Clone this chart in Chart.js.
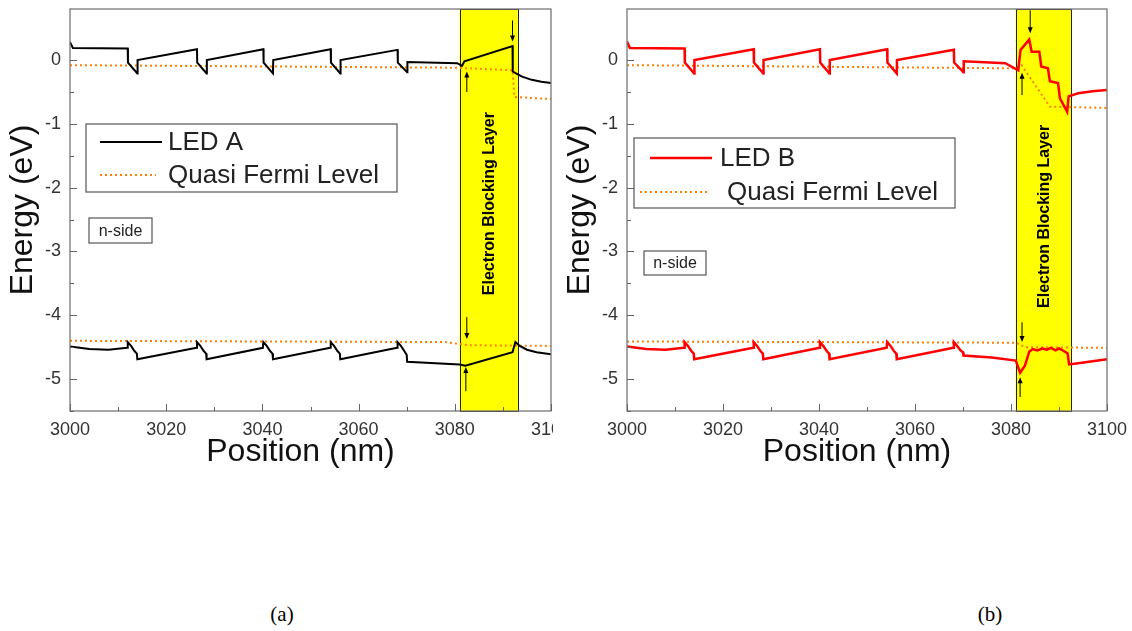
<!DOCTYPE html>
<html><head><meta charset="utf-8">
<script src="https://cdn.jsdelivr.net/npm/chart.js@4.4.1/dist/chart.umd.min.js"></script>
<style>
body{margin:0;background:#fff;width:1132px;height:631px;position:relative;overflow:hidden}
#wa{position:absolute;left:0;top:0;width:553px;height:480px;overflow:hidden}
#wb{position:absolute;left:555px;top:0;width:577px;height:480px}
.cap{position:absolute;top:602px;font-family:"Liberation Serif","Times New Roman",serif;font-size:21px;color:#000;transform:translateX(-50%)}
</style></head>
<body>
<div id="wa"><canvas id="ca" width="600" height="480"></canvas></div>
<div id="wb"><canvas id="cb" width="577" height="480"></canvas></div>
<div class="cap" style="left:282px">(a)</div>
<div class="cap" style="left:990px">(b)</div>
<script>
// ---------- data ----------
const xTicksMajor = [3000, 3020, 3040, 3060, 3080, 3100];
const yTicksMajor = [0, -1, -2, -3, -4, -5];
const eblA = [3081.0, 3093.1];
const eblB = [3081.0, 3092.5];

// LED A conduction band
const xA_cb = [3000,3000.6,3012.0,3012.05,3014.0,3014.05,3026.4,3026.45,3028.4,3028.45,3040.2,3040.25,3042.2,3042.25,3054.2,3054.25,3056.2,3056.25,3068.1,3068.15,3070.1,3070.15,3080.5,3081.5,3082.0,3092.0,3092.05,3093,3094,3096,3098,3100];
const eA_cb = [0.28,0.19,0.18,-0.04,-0.21,0.00,0.17,-0.04,-0.21,0.00,0.17,-0.04,-0.21,0.00,0.17,-0.04,-0.21,0.00,0.16,-0.04,-0.19,-0.03,-0.05,-0.09,-0.02,0.22,-0.18,-0.22,-0.26,-0.31,-0.34,-0.36];
// LED A valence band
const xA_vb = [3000,3004,3008,3011.9,3012.0,3012.7,3013.4,3013.9,3014.0,3026.3,3026.4,3027.1,3027.8,3028.3,3028.4,3040.1,3040.2,3040.9,3041.6,3042.1,3042.2,3054.1,3054.2,3054.9,3055.6,3056.1,3056.2,3068.0,3068.1,3068.8,3069.5,3070.0,3070.1,3081.0,3082.2,3092.0,3092.6,3093.5,3095,3097,3100];
const eA_vb = [-4.49,-4.53,-4.54,-4.51,-4.42,-4.48,-4.56,-4.60,-4.69,-4.51,-4.42,-4.48,-4.56,-4.60,-4.69,-4.51,-4.42,-4.48,-4.56,-4.60,-4.69,-4.51,-4.42,-4.48,-4.56,-4.60,-4.69,-4.51,-4.42,-4.48,-4.56,-4.62,-4.73,-4.77,-4.79,-4.58,-4.42,-4.48,-4.54,-4.58,-4.61];
// LED A quasi Fermi levels
const xA_fe = [3000,3080,3092.0,3092.4,3100];
const eA_fe = [-0.08,-0.12,-0.16,-0.58,-0.61];
const xA_fh = [3000,3078,3083,3100];
const eA_fh = [-4.40,-4.42,-4.47,-4.48];

// LED B conduction band
const xB_cb = [3000,3000.6,3012.0,3012.05,3014.0,3014.05,3026.4,3026.45,3028.4,3028.45,3040.2,3040.25,3042.2,3042.25,3054.2,3054.25,3056.2,3056.25,3068.1,3068.15,3070.1,3070.15,3078.8,3081.5,3082.0,3083.8,3084.3,3085.9,3086.3,3087.7,3088.1,3089.8,3090.2,3091.7,3092.0,3094,3097,3100];
const eB_cb = [0.29,0.19,0.18,-0.04,-0.21,0.00,0.17,-0.04,-0.21,0.00,0.17,-0.04,-0.21,0.00,0.17,-0.04,-0.21,0.00,0.16,-0.04,-0.19,-0.02,-0.05,-0.16,0.16,0.32,0.13,0.13,-0.10,-0.13,-0.33,-0.36,-0.60,-0.81,-0.57,-0.52,-0.49,-0.47];
// LED B valence band
const xB_vb = [3000,3004,3008,3011.9,3012.0,3012.7,3013.4,3013.9,3014.0,3026.3,3026.4,3027.1,3027.8,3028.3,3028.4,3040.1,3040.2,3040.9,3041.6,3042.1,3042.2,3054.1,3054.2,3054.9,3055.6,3056.1,3056.2,3068.0,3068.1,3068.8,3069.5,3070.0,3070.1,3076,3081.0,3081.9,3082.9,3083.8,3084.5,3085.5,3086.5,3087.5,3088.3,3089.3,3090.0,3091.0,3091.8,3092.1,3094,3097,3100];
const eB_vb = [-4.49,-4.53,-4.54,-4.51,-4.42,-4.48,-4.56,-4.60,-4.69,-4.51,-4.42,-4.48,-4.56,-4.60,-4.69,-4.51,-4.42,-4.48,-4.56,-4.60,-4.69,-4.51,-4.42,-4.48,-4.56,-4.60,-4.69,-4.51,-4.42,-4.48,-4.55,-4.58,-4.63,-4.66,-4.71,-4.90,-4.79,-4.57,-4.53,-4.55,-4.52,-4.54,-4.51,-4.55,-4.52,-4.56,-4.60,-4.77,-4.75,-4.72,-4.69];
// LED B quasi Fermi levels
const xB_fe = [3000,3081,3082.2,3088.1,3100];
const eB_fe = [-0.08,-0.13,-0.08,-0.73,-0.75];
const xB_fh = [3000,3081,3083,3100];
const eB_fh = [-4.41,-4.43,-4.50,-4.51];

// arrow annotations (x, from y, to y)
const arrowsA = [[3092.0,0.62,0.29],[3082.5,-0.50,-0.18],[3082.5,-4.03,-4.37],[3082.3,-5.19,-4.81]];
const arrowsB = [[3084.0,0.78,0.42],[3082.3,-0.55,-0.20],[3082.3,-4.11,-4.42],[3081.9,-5.28,-4.97]];

// ---------- rendering ----------
const FONT = '"Liberation Sans", Arial, sans-serif';
const ORANGE = '#ff8000';
const zip = (xs, ys) => xs.map((x, i) => ({x, y: ys[i]}));

const decor = {
  id: 'decor',
  beforeDatasetsDraw(chart) {
    const o = chart.options.plugins.decor;
    const {ctx, chartArea: a, scales: {x}} = chart;
    const x0 = x.getPixelForValue(o.ebl[0]), x1 = x.getPixelForValue(o.ebl[1]);
    ctx.save();
    ctx.fillStyle = '#ffff00';
    ctx.fillRect(x0, a.top, x1 - x0, a.bottom - a.top);
    ctx.strokeStyle = '#222'; ctx.lineWidth = 1;
    ctx.strokeRect(Math.round(x0) + 0.5, a.top + 0.5, Math.round(x1 - x0), a.bottom - a.top);
    ctx.restore();
  },
  afterDatasetsDraw(chart) {
    const o = chart.options.plugins.decor;
    const {ctx, chartArea: a, scales: {x, y}} = chart;
    ctx.save();
    // frame
    ctx.strokeStyle = '#777'; ctx.lineWidth = 1.3;
    ctx.strokeRect(a.left, a.top, a.right - a.left, a.bottom - a.top);
    // inner ticks
    ctx.strokeStyle = '#666'; ctx.lineWidth = 1;
    x.ticks.forEach(t => {
      const px = Math.round(x.getPixelForValue(t.value)) + 0.5;
      const len = (t.value % 20 === 0) ? 7 : 4;
      ctx.beginPath(); ctx.moveTo(px, a.bottom); ctx.lineTo(px, a.bottom - len); ctx.stroke();
    });
    y.ticks.forEach(t => {
      const r = t.value * 2;
      if (Math.abs(r - Math.round(r)) > 1e-6) return;
      const py = Math.round(y.getPixelForValue(t.value)) + 0.5;
      const len = Math.abs(t.value - Math.round(t.value)) < 1e-6 ? 7 : 4;
      ctx.beginPath(); ctx.moveTo(a.left, py); ctx.lineTo(a.left + len, py); ctx.stroke();
    });
    // x-axis title (slightly left of centre, as in the original)
    ctx.fillStyle = '#111'; ctx.font = '32px ' + FONT;
    ctx.textAlign = 'center'; ctx.textBaseline = 'middle';
    ctx.fillText('Position (nm)', (a.left + a.right) / 2 - 10, a.bottom + 41);
    // EBL label
    const xc = (x.getPixelForValue(o.ebl[0]) + x.getPixelForValue(o.ebl[1])) / 2;
    ctx.translate(xc, y.getPixelForValue(o.eblTextY));
    ctx.rotate(-Math.PI / 2);
    ctx.fillStyle = '#000'; ctx.font = 'bold 16px ' + FONT;
    ctx.textAlign = 'center'; ctx.textBaseline = 'middle';
    ctx.fillText('Electron Blocking Layer', 0, 1);
    ctx.setTransform(1, 0, 0, 1, 0, 0);
    // arrows
    ctx.strokeStyle = '#000'; ctx.fillStyle = '#000'; ctx.lineWidth = 1;
    o.arrows.forEach(([ax, ya, yb]) => {
      const px = x.getPixelForValue(ax), p0 = y.getPixelForValue(ya), p1 = y.getPixelForValue(yb);
      const dir = Math.sign(p1 - p0);
      ctx.beginPath(); ctx.moveTo(px, p0); ctx.lineTo(px, p1 - dir * 4); ctx.stroke();
      ctx.beginPath(); ctx.moveTo(px, p1); ctx.lineTo(px - 2.5, p1 - dir * 6); ctx.lineTo(px + 2.5, p1 - dir * 6); ctx.closePath(); ctx.fill();
    });
    // legend
    const L = o.legend;
    const lx = a.left + L.dx, ly = a.top + L.dy;
    ctx.fillStyle = '#fff'; ctx.fillRect(lx, ly, L.w, L.h);
    ctx.strokeStyle = '#555'; ctx.lineWidth = 1.2; ctx.strokeRect(lx, ly, L.w, L.h);
    ctx.font = '26px ' + FONT; ctx.textAlign = 'left'; ctx.textBaseline = 'middle'; ctx.fillStyle = '#222';
    const items = [chart.data.datasets[0], chart.data.datasets[2]];
    items.forEach((ds, i) => {
      const rowY = ly + L.rows[i];
      const s = L.samples[i];
      ctx.save();
      ctx.strokeStyle = ds.borderColor; ctx.lineWidth = ds.borderWidth;
      ctx.setLineDash(ds.borderDash || []);
      ctx.beginPath(); ctx.moveTo(lx + s[0], rowY); ctx.lineTo(lx + s[1], rowY); ctx.stroke();
      ctx.restore();
      ctx.fillText(ds.label, lx + L.textX[i], rowY + 1);
    });
    // n-side box
    const N = o.nside;
    const nx = a.left + N[0], ny = a.top + N[1];
    ctx.strokeStyle = '#555'; ctx.lineWidth = 1.2; ctx.strokeRect(nx, ny, N[2], N[3]);
    ctx.fillStyle = '#222'; ctx.font = '16px ' + FONT; ctx.textAlign = 'center';
    ctx.fillText('n-side', nx + N[2] / 2, ny + N[3] / 2 + 1);
    ctx.restore();
  }
};

function makeChart(id, c) {
  return new Chart(document.getElementById(id), {
    type: 'line',
    data: {datasets: [
      {label: c.name, data: zip(c.xcb, c.ecb), borderColor: c.color, borderWidth: c.lw, pointRadius: 0, tension: 0, fill: false},
      {label: c.name + ' (VB)', data: zip(c.xvb, c.evb), borderColor: c.color, borderWidth: c.lw, pointRadius: 0, tension: 0, fill: false},
      {label: 'Quasi Fermi Level', data: zip(c.xfe, c.efe), borderColor: ORANGE, borderWidth: 2, borderDash: [2, 3], pointRadius: 0, tension: 0, fill: false},
      {label: 'Quasi Fermi Level (h)', data: zip(c.xfh, c.efh), borderColor: ORANGE, borderWidth: 2, borderDash: [2, 3], pointRadius: 0, tension: 0, fill: false}
    ]},
    options: {
      responsive: false, animation: false, devicePixelRatio: 1,
      layout: {padding: {left: 0, right: c.padR, top: 9, bottom: 9}},
      plugins: {legend: {display: false}, tooltip: {enabled: false},
        decor: {ebl: c.ebl, eblTextY: c.eblTextY, arrows: c.arrows, legend: c.legend, nside: c.nside}},
      scales: {
        x: {type: 'linear', min: 3000, max: 3100,
          afterFit: s => { s.height = 60; s.paddingLeft = 0; s.paddingRight = 0; },
          grid: {display: false, drawTicks: false}, border: {display: false},
          ticks: {stepSize: 10, autoSkip: false, maxRotation: 0, padding: 8, color: '#333', font: {size: 18, family: FONT},
            callback: v => xTicksMajor.includes(v) ? String(v) : ''},
          title: {display: false}},
        y: {type: 'linear', min: -5.5, max: 0.8,
          afterFit: s => { s.width = c.yw; s.paddingTop = 0; s.paddingBottom = 0; },
          grid: {display: false, drawTicks: false}, border: {display: false},
          ticks: {stepSize: 0.5, autoSkip: false, padding: 9, color: '#333', font: {size: 18, family: FONT},
            callback: v => { const r = Math.round(v); return (Math.abs(v - r) < 1e-6 && yTicksMajor.includes(r)) ? String(r) : ''; }},
          title: {display: true, text: 'Energy (eV)', color: '#111', font: {size: 32, family: FONT}, padding: {top: c.ytPad, bottom: 0}}}
      }
    },
    plugins: [decor]
  });
}

makeChart('ca', {name: 'LED A', color: '#000000', lw: 2,
  xcb: xA_cb, ecb: eA_cb, xvb: xA_vb, evb: eA_vb, xfe: xA_fe, efe: eA_fe, xfh: xA_fh, efh: eA_fh,
  ebl: eblA, eblTextY: -2.25, arrows: arrowsA, padR: 49, yw: 70, ytPad: 4,
  legend: {dx: 16, dy: 115, w: 311, h: 68, rows: [18, 51], samples: [[14, 76], [14, 70]], textX: [82, 82]},
  nside: [19, 209, 63, 25]});

makeChart('cb', {name: 'LED B', color: '#ff0000', lw: 2.5,
  xcb: xB_cb, ecb: eB_cb, xvb: xB_vb, evb: eB_vb, xfe: xB_fe, efe: eB_fe, xfh: xB_fh, efh: eB_fh,
  ebl: eblB, eblTextY: -2.45, arrows: arrowsB, padR: 25, yw: 72, ytPad: 6,
  legend: {dx: 7, dy: 129, w: 321, h: 70, rows: [20, 54], samples: [[16, 78], [6, 73]], textX: [86, 93]},
  nside: [17, 242, 62, 24]});
</script>
</body></html>
